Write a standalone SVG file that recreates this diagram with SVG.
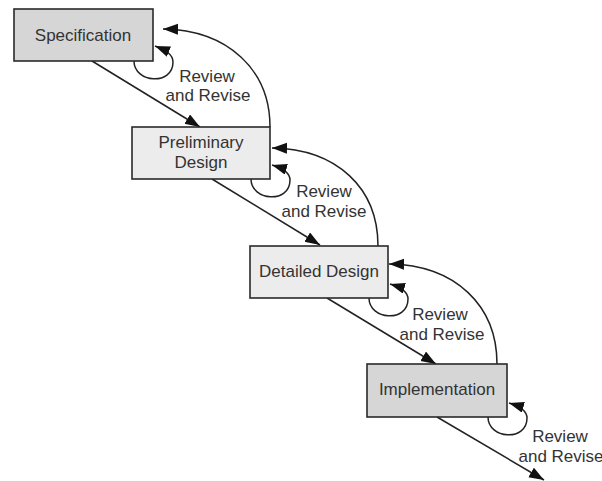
<svg xmlns="http://www.w3.org/2000/svg" width="602" height="481" viewBox="0 0 602 481">
<defs>
<style>
.box{stroke:#2a2a2a;stroke-width:1.6}
.dark{fill:#d6d6d6}
.light{fill:#ececec}
.t{font-family:"Liberation Sans",Arial,sans-serif;font-size:17px;fill:#333;text-anchor:middle}
.c{fill:none;stroke:#222;stroke-width:1.5;marker-end:url(#ah)}
</style>
<marker id="ah" markerUnits="userSpaceOnUse" markerWidth="16" markerHeight="12" refX="15" refY="5.5" orient="auto">
<path d="M0,0 L15,5.5 L0,11 z" fill="#111"/>
</marker>
</defs>
<rect width="602" height="481" fill="#fff"/>
<g id="connectors">
<path class="c" d="M92,61 L200,127"/>
<path class="c" d="M212,179 L320,245"/>
<path class="c" d="M327,298 L436,364"/>
<path class="c" d="M437,417 L544,480"/>
<path class="c" d="M270,127 C270,70 228,30 163,29"/>
<path class="c" d="M378,246 C378,188 337,149 272,148"/>
<path class="c" d="M497,364 C497,306 456,265 389,264"/>
<path class="c" d="M134,61 C134,83 173,86 173,62 C173,54 165,50 155,46"/>
<path class="c" d="M251,179 C251,201 290,204 290,180 C290,172 282,168 272,165"/>
<path class="c" d="M369,298 C369,320 408,323 408,299 C408,291 400,287 390,284"/>
<path class="c" d="M488,417 C488,439 527,442 527,418 C527,410 519,406 509,403"/>
</g>
<g id="specification">
<rect class="box dark" x="14" y="9" width="139" height="52"/>
<text class="t" x="83" y="41">Specification</text>
</g>
<g id="preliminary-design">
<rect class="box light" x="132" y="127" width="138" height="52"/>
<text class="t" x="201" y="148">Preliminary</text>
<text class="t" x="201" y="168">Design</text>
</g>
<g id="detailed-design">
<rect class="box light" x="250" y="246" width="138" height="52"/>
<text class="t" x="319" y="277">Detailed Design</text>
</g>
<g id="implementation">
<rect class="box dark" x="367" y="364" width="140" height="53"/>
<text class="t" x="437" y="395">Implementation</text>
</g>
<g id="labels">
<text class="t" x="207" y="82">Review</text>
<text class="t" x="208" y="101">and Revise</text>
<text class="t" x="324" y="197">Review</text>
<text class="t" x="324" y="217">and Revise</text>
<text class="t" x="440" y="320">Review</text>
<text class="t" x="442" y="340">and Revise</text>
<text class="t" x="560" y="442">Review</text>
<text class="t" x="561" y="462">and Revise</text>
</g>
</svg>
